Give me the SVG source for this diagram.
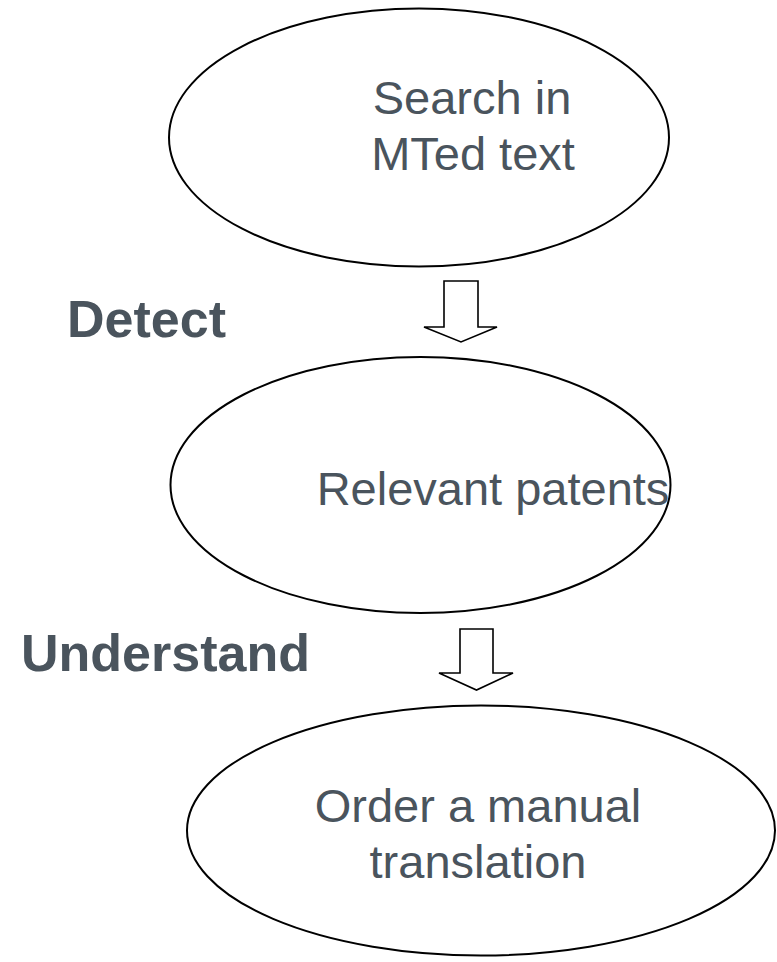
<svg xmlns="http://www.w3.org/2000/svg" width="777" height="962" viewBox="0 0 777 962">
  <style>
    .node { fill: #ffffff; stroke: #000000; stroke-width: 2; }
    .txt { font-family: "Liberation Sans", Arial, sans-serif; font-size: 47px; fill: #4a545d; text-anchor: middle; }
    .lbl { font-family: "Liberation Sans", Arial, sans-serif; font-size: 52px; font-weight: bold; fill: #4a545d; }
    .arrow { fill: #ffffff; stroke: #000000; stroke-width: 1.6; stroke-linejoin: miter; }
  </style>
  <rect width="777" height="962" fill="#ffffff"/>

  <g id="connectors">
    <polygon class="arrow" points="444,281 478,281 478,327 497,327 461,342 424,327 444,327"/>
    <polygon class="arrow" points="460,629 493,629 493,673 513,673 476.5,690 439,673 460,673"/>
  </g>

  <g id="node-search">
    <ellipse class="node" cx="419" cy="137.5" rx="250" ry="129"/>
    <text class="txt" x="472" y="114">Search in</text>
    <text class="txt" x="473" y="170">MTed text</text>
  </g>

  <g id="node-relevant">
    <ellipse class="node" cx="420.5" cy="485" rx="250" ry="128"/>
    <text class="txt" x="493" y="505">Relevant patents</text>
  </g>

  <g id="node-order">
    <ellipse class="node" cx="481" cy="830.5" rx="294" ry="125"/>
    <text class="txt" x="478" y="822">Order a manual</text>
    <text class="txt" x="478" y="878">translation</text>
  </g>

  <g id="label-detect">
    <text class="lbl" x="67" y="337">Detect</text>
  </g>
  <g id="label-understand">
    <text class="lbl" x="21" y="671">Understand</text>
  </g>
</svg>
